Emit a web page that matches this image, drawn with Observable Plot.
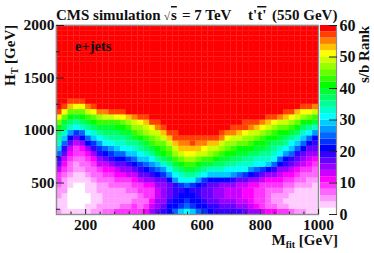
<!DOCTYPE html>
<html><head><meta charset="utf-8">
<script src="https://cdn.jsdelivr.net/npm/d3@7"></script>
<script src="https://cdn.jsdelivr.net/npm/@observablehq/plot@0.6"></script>
<style>
html,body{margin:0;padding:0;background:#fff}
#chart{position:relative;width:374px;height:253px;overflow:hidden}
#chart svg{position:absolute;left:0;top:0;background:transparent;font-family:"Liberation Serif",serif;font-weight:bold}
</style></head><body><div id="chart"></div>
<script>
const mfitStart = 100, mfitBin = 20, htStart = 200, htBin = 50, htBins = 36;
const title = "CMS simulation";
const channel = "e+jets";
const xTicks = [200,400,600,800,1000];
const xMinor = [150,250,300,350,450,500,550,650,700,750,850,900,950];
const yTicks = [500,1000,1500,2000];
const yMinor = [250,750,1250,1750];
const zTicks = [0,10,20,30,40,50,60];
const bandLow = [0,2,4,6,8,10,12,14,16,18,20,22,24,26,28,30,32,34,36,38,40,42,44,46,48,50,52,54,56,58];
const bandColors = ["#ffffff","#ffccff","#ff99ff","#ff66ff","#ff33ff","#ff00ff","#cc00ff","#9900ff","#6600ff","#3300ff","#0000ff","#0033ff","#0066ff","#0099ff","#00ccff","#00ffff","#00ffcc","#00ff99","#00ff66","#00ff33","#00ff00","#33ff00","#66ff00","#99ff00","#ccff00","#ffff00","#ffc000","#ff8000","#ff4000","#ff0000"];
// s/b rank per Mfit column, from the lowest HT bin upward; cells above the listed ones are saturated at 60
const saturated = 60;
const columns = [
[4,3,3,4,5,6,8,9,12,16,19,24,29,32,35,37,40,44,50,57],
[2,2,3,3,4,4,5,7,8,10,13,16,19,24,29,33,36,39,45,50,57],
[2,1,1,1,1,2,3,4,6,7,8,10,12,16,21,27,32,36,40,45,52,57],
[3,0,0,0,0,1,2,3,4,5,6,8,9,13,17,22,30,34,39,44,51,57],
[3,0,0,0,1,1,2,3,4,6,7,8,11,15,20,25,32,36,40,45,51,57],
[3,2,1,1,2,3,3,4,6,7,9,11,15,20,24,30,35,38,43,48,55],
[4,3,2,2,3,3,4,6,7,9,11,15,19,23,29,33,36,40,45,50,57],
[5,4,3,3,4,4,6,7,9,12,15,18,23,26,31,35,39,42,47,54],
[6,4,4,4,4,5,7,8,10,13,16,20,25,30,33,36,39,43,49,55],
[7,5,4,4,5,6,7,9,11,14,18,22,27,30,34,36,39,43,48,57],
[8,5,4,4,5,6,8,10,13,16,20,24,29,32,34,37,40,43,50,57],
[8,6,5,4,5,7,9,11,14,17,21,25,30,32,35,38,40,45,51,57],
[9,7,5,5,6,7,9,12,15,18,23,28,31,34,36,39,43,47,52],
[9,8,6,5,6,8,10,13,16,20,24,29,32,35,38,42,46,49,55],
[9,7,6,7,8,9,12,16,19,23,28,31,34,37,41,44,47,51,57],
[10,8,7,8,9,11,14,17,20,25,29,33,36,39,43,46,49,53,57],
[14,12,10,9,9,11,15,18,22,27,31,35,38,42,45,48,51,56],
[17,15,14,13,13,14,17,20,25,29,34,38,41,44,47,49,54,57],
[19,17,15,14,14,15,17,22,27,32,37,41,43,45,48,52,57],
[21,20,18,17,16,17,20,26,31,35,39,43,45,48,52,56],
[24,21,20,19,18,19,26,31,35,38,42,46,49,52,56,57],
[28,23,21,20,19,22,30,33,37,41,45,49,52,54,57],
[31,25,22,20,20,24,31,35,38,42,46,50,53,55,57],
[28,23,21,20,19,23,31,35,38,42,46,50,53,56,57],
[24,21,20,19,18,20,27,32,36,40,44,49,52,55,57],
[22,20,18,17,16,18,23,30,35,39,43,48,51,54,57],
[20,19,17,16,16,17,21,29,33,38,42,46,49,53,57],
[19,18,16,15,15,16,21,28,33,37,41,45,48,52,56],
[19,17,15,14,14,15,21,28,32,36,39,43,46,49,54,57],
[19,16,14,13,13,14,20,28,31,35,38,41,44,47,51,55],
[19,16,14,13,12,14,19,26,31,34,37,40,43,46,49,54,57],
[18,15,13,12,12,13,17,25,31,33,36,39,41,45,48,52,57],
[17,14,13,11,11,12,16,23,30,33,35,38,40,44,47,50,56,57],
[15,12,11,10,10,11,15,20,27,32,34,37,40,42,46,49,54,57],
[14,11,9,9,9,10,14,19,25,31,33,36,39,41,45,48,52,57],
[12,9,8,8,8,9,13,17,23,30,33,35,38,40,43,46,50,55],
[11,7,6,6,7,9,11,15,20,28,32,34,36,39,41,45,48,52,57],
[10,6,5,5,6,8,11,14,18,25,30,33,35,37,40,43,46,51,57],
[9,5,4,5,6,8,10,12,15,20,24,31,33,36,38,41,45,49,54],
[8,4,3,4,5,7,9,11,14,18,21,27,31,34,37,40,44,48,53,57],
[7,3,3,3,4,6,8,10,13,16,19,24,28,31,35,38,42,46,50,56],
[5,3,2,2,3,5,6,8,11,14,16,19,24,29,32,36,40,44,48,53],
[4,3,2,2,3,4,6,7,9,12,14,17,20,25,29,33,37,41,46,51,57],
[3,2,2,2,3,4,5,7,8,10,13,15,17,20,25,30,35,40,45,50,56],
[3,2,2,2,3,3,4,6,7,9,11,14,16,18,21,27,32,38,43,48,54]
];

const cells = columns.flatMap((col, c) => d3.range(htBins).map(r => ({
  x1: mfitStart + c * mfitBin, x2: mfitStart + (c + 1) * mfitBin,
  y1: htStart + r * htBin, y2: htStart + (r + 1) * htBin,
  v: col[r] ?? saturated
})));
const bands = bandLow.map((low, i) => ({low, high: low + 2, color: bandColors[i]}));
const colorScale = {type: "threshold", domain: bandLow.slice(1), range: bandColors};
const fs = 15.5;

const main = Plot.plot({
  width: 374, height: 253,
  marginLeft: 56, marginRight: 56, marginTop: 25, marginBottom: 39,
  x: {domain: [100, 1000]},
  y: {domain: [200, 2000]},
  color: colorScale,
  marks: [
    Plot.rect(cells, {x1: "x1", x2: "x2", y1: "y1", y2: "y2", fill: "v", stroke: "v", strokeWidth: 0.25}),
    Plot.frame({stroke: "#8c8c8c", strokeWidth: 1.4}),
    Plot.axisX({anchor: "bottom", ticks: xTicks, tickSize: 0, tickPadding: 4, tickFormat: "d", fontSize: fs, fill: "#111", label: null}),
    Plot.axisX({anchor: "bottom", ticks: xTicks, tickSize: -5, text: null, label: null, stroke: "#222"}),
    Plot.axisX({anchor: "bottom", ticks: xMinor, tickSize: -2.5, text: null, label: null, stroke: "#222"}),
    Plot.axisY({anchor: "left", ticks: yTicks, tickSize: 0, tickPadding: 2, tickFormat: "d", fontSize: fs, fill: "#111", label: null}),
    Plot.axisY({anchor: "left", ticks: yTicks, tickSize: -8, text: null, label: null, stroke: "#222"}),
    Plot.axisY({anchor: "left", ticks: yMinor, tickSize: -4, text: null, label: null, stroke: "#222"})
  ]
});

const bar = Plot.plot({
  width: 374, height: 253,
  marginLeft: 320, marginRight: 38, marginTop: 25, marginBottom: 39,
  x: {domain: [0, 1], axis: null},
  y: {domain: [0, 60]},
  marks: [
    Plot.rectY(bands, {x1: 0, x2: 1, y1: "low", y2: "high", fill: "color"}),
    Plot.ruleX([1], {stroke: "#8c8c8c", strokeWidth: 1.2}),
    Plot.axisY({anchor: "right", ticks: zTicks, tickSize: 0, tickPadding: 3, fontSize: 16, fill: "#111", label: null}),
    Plot.axisY({anchor: "right", ticks: zTicks, tickSize: -8, text: null, label: null, stroke: "#222"})
  ]
});

const root = document.getElementById("chart");
root.append(main, bar);

const svg = d3.select(main);
function label(parent, x, y, parts, opts = {}) {
  const t = parent.append("text").attr("x", x).attr("y", y).attr("font-size", opts.size || 15)
    .attr("text-anchor", opts.anchor || "start").attr("fill", "#111");
  if (opts.rotate) t.attr("transform", `rotate(-90 ${x} ${y})`);
  for (const p of parts) {
    const s = t.append("tspan").text(p.text);
    if (p.sub) s.attr("font-size", p.sub).attr("dy", 3);
    if (p.back) s.attr("dy", -3);
    if (p.over) s.style("text-decoration", "overline");
    if (p.small) s.attr("font-size", p.small);
    if (p.px) s.attr("x", p.px);
  }
}
label(svg, 56, 20, [
  {text: title}, {text: "√", px: 164, small: 11}, {text: "s", over: true, px: 171}, {text: "= 7 TeV", px: 182},
  {text: "t'", px: 248}, {text: "t'", over: true}, {text: "(550 GeV)", px: 272}
], {size: 15});
label(svg, 75, 51, [{text: channel}], {size: 14.5});
label(svg, 15, 86, [{text: "H"}, {text: "T", sub: 10}, {text: " [GeV]", back: true}], {rotate: true, size: 15});
label(svg, 338, 245, [{text: "M"}, {text: "fit", sub: 10}, {text: " [GeV]", back: true}], {anchor: "end", size: 15});
label(d3.select(bar), 369, 83, [{text: "s/b Rank"}], {rotate: true, size: 15});
</script></body></html>
